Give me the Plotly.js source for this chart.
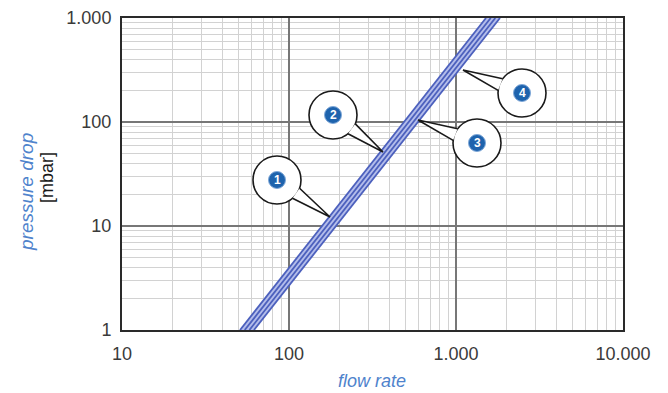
<!DOCTYPE html>
<html><head><meta charset="utf-8">
<script src="https://cdn.plot.ly/plotly-3.0.1.min.js"></script>
<style>html,body{margin:0;padding:0;background:#fff}#c{width:668px;height:393px}</style>
</head><body><div id="c"></div>
<script>
// Data (flow rate at pressure drop 1 and 1000 mbar)
const pressure = [1, 1000];
const flow1 = [50.9, 1512];
const flow2 = [54.3, 1614];
const flow3 = [57.9, 1720];
const flow4 = [61.7, 1834];
const seriesNames = ['1', '2', '3', '4'];
const xTickVals = [10, 100, 1000, 10000];
const xTickText = ['10', '100', '1.000', '10.000'];
const yTickVals = [1, 10, 100, 1000];
const yTickText = ['1', '10', '100', '1.000'];

const L = 122, R = 45, T = 18, B = 63, W = 668, H = 393;
const pw = W - L - R, ph = H - T - B;
const px = x => (x - L) / pw;
const py = y => (H - B - y) / ph;
const FONT = 'Liberation Sans, Arial, sans-serif';

function minorVals(lo, hi) {
  const v = [];
  for (let d = lo; d < hi; d *= 10) for (let k = 2; k <= 9; k++) v.push(d * k);
  return v;
}

const bandColor = '#b4bdeb';
const lineColor = '#4c60bd';
const traces = [{
  x: [flow1[0], flow1[1], flow4[1], flow4[0]],
  y: [pressure[0], pressure[1], pressure[1], pressure[0]],
  fill: 'toself', fillcolor: bandColor, mode: 'lines', line: {width: 0},
  hoverinfo: 'skip', showlegend: false
}];
[flow1, flow2, flow3, flow4].forEach((f, i) => traces.push({
  x: f, y: pressure, mode: 'lines', name: seriesNames[i],
  line: {color: lineColor, width: 1.8}, showlegend: false
}));

// callouts (pixel positions)
const callouts = [
  {n: '1', cx: 277, cy: 180, tx: 330, ty: 217},
  {n: '2', cx: 333, cy: 115, tx: 383, ty: 152},
  {n: '3', cx: 477, cy: 143, tx: 418, ty: 120},
  {n: '4', cx: 522, cy: 93, tx: 463, ty: 70}
];
const r = 24, rn = 8.5;
const shapes = [], annotations = [];
callouts.forEach(c => {
  shapes.push({type: 'circle', xref: 'paper', yref: 'paper',
    x0: px(c.cx - r), x1: px(c.cx + r), y0: py(c.cy + r), y1: py(c.cy - r),
    fillcolor: '#ffffff', line: {color: '#1a1a1a', width: 1.6}, layer: 'above'});
});
callouts.forEach(c => {
  const dx = c.tx - c.cx, dy = c.ty - c.cy;
  const a = Math.atan2(dy, dx), th = 0.26;
  const ax = c.cx + r * Math.cos(a - th), ay = c.cy + r * Math.sin(a - th);
  const bx = c.cx + r * Math.cos(a + th), by = c.cy + r * Math.sin(a + th);
  shapes.push({type: 'path', xref: 'paper', yref: 'paper',
    path: `M ${px(ax)} ${py(ay)} L ${px(c.tx)} ${py(c.ty)} L ${px(bx)} ${py(by)} Z`,
    fillcolor: '#ffffff', line: {width: 0}, layer: 'above'});
  shapes.push({type: 'path', xref: 'paper', yref: 'paper',
    path: `M ${px(ax)} ${py(ay)} L ${px(c.tx)} ${py(c.ty)} L ${px(bx)} ${py(by)}`,
    line: {color: '#1a1a1a', width: 1.6}, layer: 'above'});
  shapes.push({type: 'circle', xref: 'paper', yref: 'paper',
    x0: px(c.cx - rn), x1: px(c.cx + rn), y0: py(c.cy + rn), y1: py(c.cy - rn),
    fillcolor: '#1e63ad', line: {color: '#7fa8d8', width: 1}, layer: 'above'});
  annotations.push({xref: 'paper', yref: 'paper', x: px(c.cx), y: py(c.cy),
    xanchor: 'center', yanchor: 'middle',
    text: '<b>' + c.n + '</b>', showarrow: false,
    font: {family: FONT, size: 12, color: '#ffffff'}});
});

annotations.push({xref: 'paper', yref: 'paper', x: px(26), y: py(192), textangle: -90,
  xanchor: 'center', yanchor: 'middle',
  text: '<i>pressure drop</i>', showarrow: false,
  font: {family: FONT, size: 19, color: '#4f83cc'}});
annotations.push({xref: 'paper', yref: 'paper', x: px(47), y: py(178), textangle: -90,
  xanchor: 'center', yanchor: 'middle',
  text: '[mbar]', showarrow: false,
  font: {family: FONT, size: 18, color: '#1a1a1a'}});
annotations.push({xref: 'paper', yref: 'paper', x: px(372), y: py(381),
  xanchor: 'center', yanchor: 'middle',
  text: '<i>flow rate</i>', showarrow: false,
  font: {family: FONT, size: 18, color: '#4f83cc'}});

const axisCommon = {
  type: 'log', showline: true, mirror: true, linecolor: '#2a2a2a', linewidth: 2,
  showgrid: true, gridcolor: '#777777', gridwidth: 1.5, ticks: '', zeroline: false,
  tickfont: {family: FONT, size: 18, color: '#3a3a3a'},
  tickmode: 'array'
};
const layout = {
  width: W, height: H, margin: {l: L, r: R, t: T, b: B},
  paper_bgcolor: '#ffffff', plot_bgcolor: '#ffffff', showlegend: false,
  xaxis: Object.assign({}, axisCommon, {
    range: [1, 4], tickvals: xTickVals, ticktext: xTickText, ticklabelstandoff: 6,
    minor: {tickmode: 'array', tickvals: minorVals(10, 10000), showgrid: true, gridcolor: '#d2d2d2', gridwidth: 1, ticks: ''}
  }),
  yaxis: Object.assign({}, axisCommon, {
    range: [0, 3], tickvals: yTickVals, ticktext: yTickText, ticklabelstandoff: 5,
    minor: {tickmode: 'array', tickvals: minorVals(1, 1000), showgrid: true, gridcolor: '#d2d2d2', gridwidth: 1, ticks: ''}
  }),
  shapes: shapes, annotations: annotations
};
Plotly.newPlot('c', traces, layout, {displayModeBar: false, staticPlot: true});
</script></body></html>
